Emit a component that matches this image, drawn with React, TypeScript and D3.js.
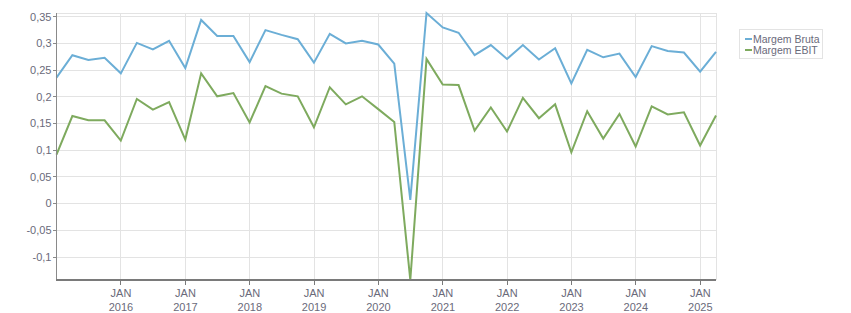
import React from "react";
import * as d3 from "d3";

const quarters: string[] = [
  "2014-12-31","2015-03-31","2015-06-30","2015-09-30",
  "2015-12-31","2016-03-31","2016-06-30","2016-09-30",
  "2016-12-31","2017-03-31","2017-06-30","2017-09-30",
  "2017-12-31","2018-03-31","2018-06-30","2018-09-30",
  "2018-12-31","2019-03-31","2019-06-30","2019-09-30",
  "2019-12-31","2020-03-31","2020-06-30","2020-09-30",
  "2020-12-31","2021-03-31","2021-06-30","2021-09-30",
  "2021-12-31","2022-03-31","2022-06-30","2022-09-30",
  "2022-12-31","2023-03-31","2023-06-30","2023-09-30",
  "2023-12-31","2024-03-31","2024-06-30","2024-09-30",
  "2024-12-31","2025-03-31",
];

const margemBruta: number[] = [
  0.236, 0.278, 0.269, 0.273,
  0.244, 0.301, 0.289, 0.305,
  0.254, 0.344, 0.314, 0.314,
  0.265, 0.325, 0.316, 0.308,
  0.264, 0.318, 0.300, 0.305,
  0.298, 0.262, 0.007, 0.357,
  0.330, 0.320, 0.278, 0.297,
  0.271, 0.297, 0.270, 0.291,
  0.225, 0.288, 0.274, 0.281,
  0.237, 0.295, 0.286, 0.283,
  0.247, 0.284,
];

const margemEbit: number[] = [
  0.092, 0.164, 0.156, 0.156,
  0.118, 0.196, 0.176, 0.190,
  0.120, 0.244, 0.201, 0.207,
  0.152, 0.220, 0.206, 0.201,
  0.143, 0.218, 0.186, 0.201,
  0.177, 0.153, -0.143, 0.271,
  0.223, 0.222, 0.137, 0.180,
  0.135, 0.198, 0.160, 0.186,
  0.096, 0.173, 0.122, 0.168,
  0.107, 0.182, 0.167, 0.171,
  0.109, 0.165,
];

const seriesNames: string[] = ["Margem Bruta", "Margem EBIT"];
const seriesColors: string[] = ["#6baed6", "#7eaa5e"];
const yTickValues: number[] = [-0.1, -0.05, 0, 0.05, 0.1, 0.15, 0.2, 0.25, 0.3, 0.35];
const xTickYears: number[] = [2016, 2017, 2018, 2019, 2020, 2021, 2022, 2023, 2024, 2025];

const W = 851;
const H = 313;
const M = { left: 56.5, right: 716, top: 13, bottom: 280 };
const FONT = "'Liberation Sans', Arial, sans-serif";
const TEXT = "#6a6a7a";

export default function App() {
  const parse = d3.timeParse("%Y-%m-%d");
  const dates = quarters.map((q) => parse(q) as Date);
  const x = d3
    .scaleTime()
    .domain(d3.extent(dates) as [Date, Date])
    .range([M.left, M.right]);
  const all = [...margemBruta, ...margemEbit];
  const y = d3
    .scaleLinear()
    .domain(d3.extent(all) as [number, number])
    .range([M.bottom, M.top]);

  const fmt = (v: number) => {
    const r = Math.round(v * 100) / 100;
    return String(r).replace(".", ",");
  };

  const series = [margemBruta, margemEbit];
  const line = d3
    .line<number>()
    .x((_, i) => x(dates[i]))
    .y((d) => y(d));

  const xTicks = xTickYears.map((yr) => new Date(yr, 0, 1));

  return (
    <svg
      width={W}
      height={H}
      style={{ position: "absolute", left: 0, top: 0, fontFamily: FONT }}
    >
      <rect x={0} y={0} width={W} height={H} fill="#ffffff" />
      {/* grid */}
      <g shapeRendering="crispEdges" stroke="#e3e3e3" strokeWidth={1}>
        {yTickValues.map((v) => (
          <line key={"gy" + v} x1={M.left} x2={M.right} y1={y(v)} y2={y(v)} />
        ))}
        {xTicks.map((d, i) => (
          <line key={"gx" + i} x1={x(d)} x2={x(d)} y1={M.top} y2={M.bottom} />
        ))}
        <line x1={M.left} x2={M.right} y1={M.top} y2={M.top} />
        <line x1={M.right} x2={M.right} y1={M.top} y2={M.bottom} />
      </g>
      {/* lines */}
      {series.map((s, k) => (
        <path
          key={"s" + k}
          d={line(s) || ""}
          fill="none"
          stroke={seriesColors[k]}
          strokeWidth={2}
          strokeLinejoin="miter"
        />
      ))}
      {/* y axis */}
      <g shapeRendering="crispEdges">
        <line x1={M.left} x2={M.left} y1={M.top} y2={M.bottom} stroke="#8a8a8a" strokeWidth={1} />
        {yTickValues.map((v) => (
          <g key={"yt" + v}>
            <line x1={M.left - 4} x2={M.left} y1={y(v)} y2={y(v)} stroke="#8a8a8a" />
            <text
              x={M.left - 5}
              y={y(v)}
              dy="0.35em"
              textAnchor="end"
              fontSize={11}
              fill={TEXT}
            >
              {fmt(v)}
            </text>
          </g>
        ))}
      </g>
      {/* x axis */}
      <g shapeRendering="crispEdges">
        <line x1={M.left - 1} x2={M.right} y1={M.bottom} y2={M.bottom} stroke="#7a7a7a" strokeWidth={2} />
        {xTicks.map((d, i) => (
          <g key={"xt" + i}>
            <line x1={x(d)} x2={x(d)} y1={M.bottom} y2={M.bottom + 5} stroke="#7a7a7a" />
            <text x={x(d)} y={297} textAnchor="middle" fontSize={11} fill={TEXT}>
              JAN
            </text>
            <text x={x(d)} y={310.5} textAnchor="middle" fontSize={11} fill={TEXT}>
              {xTickYears[i]}
            </text>
          </g>
        ))}
      </g>
      {/* legend */}
      <g>
        <rect x={739.5} y={29.5} width={83} height={29} fill="#fff" stroke="#e3e3e3" />
        {seriesNames.map((n, k) => (
          <g key={"l" + k}>
            <line
              x1={745}
              x2={752}
              y1={39 + k * 11}
              y2={39 + k * 11}
              stroke={seriesColors[k]}
              strokeWidth={2}
            />
            <text x={753} y={39 + k * 11} dy="0.35em" fontSize={10.5} fill={TEXT}>
              {n}
            </text>
          </g>
        ))}
      </g>
    </svg>
  );
}
